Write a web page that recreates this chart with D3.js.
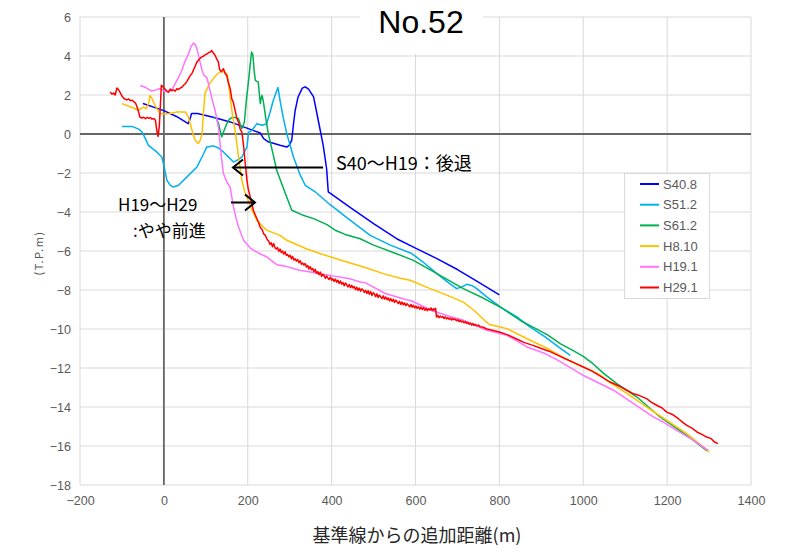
<!DOCTYPE html>
<html>
<head>
<meta charset="utf-8">
<script src="https://cdn.jsdelivr.net/npm/d3@7"></script>
<style>
  body { margin: 0; background: #fff; }
  svg { display: block; }
</style>
</head>
<body>
<svg id="chart" width="795" height="552"></svg>
<script>
// ---- data (distance from baseline [m], elevation T.P. [m]) ----
const seriesNames = ["S40.8", "S51.2", "S61.2", "H8.10", "H19.1", "H29.1"];
const seriesColors = ["#0000ff", "#00b0f0", "#00b050", "#ffc000", "#ff73ff", "#ff0000"];

const s40_8 = [[-50,1.56],[0,1.2],[30,0.9],[58,0.53],[62,0.75],[66,1.05],[80,1.05],[120,0.85],[158,0.62],[198,0.3],[230,0.05],[238,-0.24],[249,-0.4],[277,-0.58],[293,-0.67],[300,-0.55],[305,-0.3],[309,0.5],[313,1.2],[320,1.9],[330,2.35],[337,2.42],[345,2.3],[357,1.9],[370,0.5],[380,-0.6],[388,-1.77],[392,-2.97],[450,-3.85],[500,-4.6],[555,-5.37],[600,-5.85],[651,-6.39],[700,-6.95],[750,-7.6],[800,-8.25]];

const s51_2 = [[-100,0.39],[-76,0.39],[-60,0.25],[-52,0.1],[-45,-0.2],[-37,-0.58],[-17,-0.92],[-5,-1.18],[0,-1.6],[7,-2.37],[15,-2.62],[23,-2.72],[35,-2.63],[55,-2.2],[79,-1.69],[95,-1.0],[102,-0.67],[118,-0.61],[130,-0.72],[142,-0.92],[155,-1.2],[166,-1.44],[178,-1.3],[186,-1.18],[198,-0.67],[202,0.1],[210,0.19],[222,0.53],[234,0.45],[245,0.53],[253,1.1],[261,1.73],[272,2.38],[277,1.73],[285,0.8],[293,0.02],[309,-1.18],[325,-2.1],[337,-2.63],[360,-2.95],[395,-3.6],[440,-4.35],[492,-5.2],[540,-5.7],[591,-6.13],[620,-6.6],[651,-7.16],[680,-7.65],[698,-7.93],[710,-7.85],[722,-7.71],[735,-7.78],[746,-7.93],[770,-8.35],[802,-8.87],[842,-9.38],[870,-9.85],[909,-10.4],[940,-10.9],[969,-11.35]];

const s61_2 = [[118,0.84],[125,0.8],[130,0.55],[134,0.2],[138,-0.15],[143,0.15],[150,0.53],[156,0.75],[162,0.84],[170,0.85],[178,0.79],[182,0.5],[186,0.28],[192,0.6],[197,1.8],[202,2.75],[206,3.6],[209,4.2],[212,4.1],[215,3.3],[218,2.75],[222,2.7],[225,2.67],[228,2.0],[230,1.56],[232,1.85],[234,1.98],[236,1.8],[238,1.56],[243,0.8],[249,0.02],[259,-0.9],[269,-1.86],[287,-2.9],[305,-3.91],[330,-4.15],[357,-4.34],[389,-4.65],[410,-4.95],[432,-5.15],[468,-5.37],[500,-5.7],[550,-6.1],[595,-6.48],[651,-7.16],[714,-7.93],[760,-8.4],[802,-8.87],[849,-9.55],[880,-9.9],[915,-10.3],[945,-10.75],[975,-11.1],[1000,-11.4],[1023,-11.78],[1050,-12.3],[1080,-12.8],[1128,-13.49],[1183,-14.51],[1223,-15.1],[1262,-15.7],[1295,-16.25]];

const h8_10 = [[-100,1.56],[-80,1.4],[-60,1.22],[-55,1.3],[-49,1.38],[-42,1.3],[-36,1.6],[-33,1.98],[-28,1.8],[-21,1.47],[-14,1.2],[-9,1.05],[0,1.02],[15,1.05],[31,1.13],[51,1.13],[58,0.9],[67,0.19],[74,-0.3],[82,-0.49],[87,-0.3],[91,0.02],[94,1.0],[98,2.07],[108,2.55],[118,2.84],[126,3.05],[134,3.18],[143,3.2],[150,3.1],[154,2.7],[158,1.9],[164,0.9],[170,0.19],[178,-1.18],[186,-2.37],[192,-2.9],[198,-3.23],[210,-3.91],[222,-4.43],[237,-4.77],[246,-4.94],[277,-5.2],[293,-5.45],[341,-5.9],[372,-6.13],[419,-6.45],[436,-6.56],[480,-6.85],[523,-7.16],[564,-7.4],[587,-7.5],[635,-7.93],[685,-8.35],[714,-8.62],[740,-9.05],[762,-9.5],[776,-9.77],[800,-9.88],[818,-9.98],[866,-10.5],[915,-11.0],[957,-11.52],[1000,-11.95],[1036,-12.3],[1056,-12.63],[1104,-13.3],[1151,-14.0],[1199,-14.68],[1247,-15.36],[1300,-16.3]];

const h19_1 = [[-56,2.49],[-45,2.4],[-29,2.2],[-20,2.25],[-9,2.33],[0,2.2],[11,2.15],[20,2.3],[27,2.58],[35,2.9],[43,3.27],[50,3.7],[59,4.12],[65,4.5],[71,4.67],[74,4.6],[79,4.38],[85,3.8],[91,3.27],[96,3.0],[102,2.92],[106,2.6],[110,2.24],[116,1.7],[122,1.22],[130,0.36],[134,-0.49],[138,-1.35],[142,-2.03],[150,-2.45],[158,-2.72],[166,-3.74],[172,-4.3],[178,-4.77],[190,-5.45],[206,-5.85],[225,-6.1],[246,-6.31],[269,-6.7],[293,-6.8],[323,-6.99],[357,-7.1],[396,-7.25],[443,-7.42],[470,-7.6],[480,-7.62],[492,-7.76],[528,-8.18],[576,-8.49],[590,-8.55],[637,-9.04],[680,-9.35],[714,-9.55],[770,-10.07],[818,-10.32],[866,-10.92],[909,-11.26],[939,-11.6],[999,-12.37],[1024,-12.63],[1072,-13.14],[1120,-13.83],[1167,-14.51],[1191,-14.77],[1223,-15.2],[1262,-15.7],[1298,-16.22]];

const h29_1 = [[-128,2.15],[-124,2.05],[-120,2.1],[-116,2.0],[-112,2.36],[-109,2.3],[-104,2.12],[-100,1.95],[-96,1.84],[-92,1.78],[-88,1.75],[-84,1.8],[-80,1.7],[-76,1.74],[-72,1.66],[-68,1.6],[-64,1.4],[-60,1.1],[-57,0.86],[-52,0.82],[-48,0.86],[-44,0.78],[-40,0.85],[-36,0.8],[-32,0.84],[-28,0.76],[-24,0.8],[-20,0.7],[-17,0.2],[-14,-0.12],[-11,0.36],[-8,1.6],[-6,2.5],[-3,2.45],[0,2.35],[3,2.3],[7,2.2],[11,2.15],[15,2.3],[19,2.22],[23,2.26],[27,2.2],[31,2.32],[35,2.28],[39,2.36],[43,2.4],[47,2.5],[51,2.58],[55,2.7],[59,2.85],[63,3.0],[67,3.1],[71,3.3],[75,3.5],[79,3.7],[83,3.8],[87,3.9],[91,3.95],[95,4.0],[99,4.08],[103,4.1],[107,4.18],[111,4.2],[114,4.28],[118,4.15],[122,4.04],[126,3.85],[130,3.69],[133,3.3],[137,3.2],[142,3.35],[146,3.1],[150,3.0],[154,2.6],[158,2.35],[162,1.8],[166,1.6],[170,1.2],[174,0.8],[178,0.6],[182,0.25],[186,0.1],[190,-0.6],[194,-1.5],[198,-2.35],[201,-2.8],[204,-3.06],[208,-3.45],[211,-3.7],[214,-3.95],[218,-4.15],[222,-4.35],[226,-4.55],[230,-4.8],[234,-4.9],[238,-5.12],[242,-5.2],[246,-5.4],
[250,-5.5],[253,-5.66],[256,-5.58],[259,-5.78],[262,-5.62],[265,-5.84],[268,-5.9],[271,-5.82],[274,-6.02],[277,-5.9],[280,-6.08],[283,-6.0],[286,-6.16],[289,-6.04],[292,-6.22],[295,-6.18],[298,-6.3],[301,-6.22],[304,-6.4],[307,-6.28],[310,-6.46],[313,-6.4],[316,-6.52],[319,-6.44],[322,-6.6],[325,-6.5],[328,-6.68],[331,-6.62],[334,-6.72],[337,-6.64],[340,-6.82],[343,-6.74],[346,-6.92],[349,-6.8],[352,-6.96],[355,-6.9],[358,-7.06],[361,-6.94],[364,-7.14],[367,-7.06],[370,-7.22],[373,-7.08],[376,-7.3],[379,-7.2],[382,-7.26],[385,-7.4],[388,-7.28],[391,-7.38],[394,-7.46],[397,-7.34],[400,-7.5],[403,-7.42],[406,-7.56],[409,-7.44],[412,-7.6],[415,-7.5],[418,-7.66],[421,-7.54],[424,-7.7],[427,-7.62],[430,-7.78],[433,-7.64],[436,-7.74],[439,-7.84],[442,-7.72],[445,-7.88],[448,-7.76],[451,-7.9],[454,-7.82],[457,-7.98],[460,-7.86],[463,-8.02],[466,-7.9],[469,-8.06],[472,-7.94],[475,-8.0],[478,-8.12],[481,-8.02],[484,-8.18],[487,-8.04],[490,-8.22],[493,-8.08],[496,-8.28],[499,-8.14],[502,-8.2],[505,-8.34],[508,-8.2],[511,-8.38],[514,-8.26],[517,-8.36],[520,-8.44],[523,-8.3],[526,-8.46],[529,-8.36],[532,-8.5],[535,-8.4],[538,-8.56],[541,-8.44],[544,-8.58],[547,-8.48],[550,-8.64],[553,-8.52],[556,-8.6],[559,-8.7],[562,-8.58],[565,-8.74],[568,-8.62],[571,-8.76],[574,-8.66],[577,-8.8],[580,-8.7],[583,-8.78],[586,-8.86],[589,-8.74],[592,-8.88],[595,-8.78],[598,-8.92],[601,-8.82],[604,-8.94],[607,-8.86],[610,-8.98],[613,-8.88],[616,-9.0],[619,-8.9],[622,-9.04],[625,-8.94],[628,-9.06],[631,-8.96],[634,-9.02],[637,-8.92],[640,-9.06],[643,-8.96],[646,-9.02],[648,-8.94],[650,-9.38],[653,-9.3],[656,-9.42],[659,-9.34],[662,-9.4],[665,-9.36],[668,-9.46],[671,-9.38],[674,-9.48],[677,-9.42],[680,-9.5],[683,-9.44],[686,-9.54],[689,-9.46],[692,-9.52],[695,-9.5],[698,-9.58],[701,-9.52],[704,-9.62],[707,-9.56],[710,-9.64],[713,-9.6],[716,-9.68],[719,-9.62],[722,-9.72],[725,-9.66],[728,-9.76],[731,-9.7],[734,-9.8],[737,-9.72],[740,-9.82],[743,-9.76],[746,-9.84],[750,-9.8],[754,-9.88],
[760,-9.9],[770,-10.0],[780,-10.05],[790,-10.1],[800,-10.15],[820,-10.3],[840,-10.5],[860,-10.7],[880,-10.84],[900,-11.0],[920,-11.15],[940,-11.35],[960,-11.55],[980,-11.75],[1000,-11.95],[1020,-12.15],[1040,-12.4],[1064,-12.72],[1085,-12.92],[1104,-13.14],[1118,-13.3],[1130,-13.38],[1151,-13.57],[1162,-13.75],[1175,-13.91],[1188,-14.05],[1199,-14.26],[1214,-14.4],[1227,-14.6],[1238,-14.8],[1247,-14.94],[1260,-15.1],[1271,-15.28],[1284,-15.42],[1294,-15.54],[1305,-15.62],[1312,-15.78],[1321,-15.88]];

const allSeries = [s40_8, s51_2, s61_2, h8_10, h19_1, h29_1];

const xTicks = [-200, 0, 200, 400, 600, 800, 1000, 1200, 1400];
const yTicks = [-18, -16, -14, -12, -10, -8, -6, -4, -2, 0, 2, 4, 6];

// ---- chart ----
const svg = d3.select("#chart");
const margin = { top: 17, right: 44, bottom: 67, left: 80 };
const width = 795, height = 552;

const x = d3.scaleLinear().domain([-200, 1400]).range([margin.left, width - margin.right]);
const y = d3.scaleLinear().domain([-18, 6]).range([height - margin.bottom, margin.top]);

svg.append("rect").attr("width", width).attr("height", height).attr("fill", "#fff");

// gridlines
svg.append("g")
  .selectAll("line")
  .data(xTicks)
  .join("line")
  .attr("x1", d => x(d)).attr("x2", d => x(d))
  .attr("y1", y(6)).attr("y2", y(-18))
  .attr("stroke", "#d9d9d9").attr("stroke-width", 1);

svg.append("g")
  .selectAll("line")
  .data(yTicks)
  .join("line")
  .attr("x1", x(-200)).attr("x2", x(1400))
  .attr("y1", d => y(d)).attr("y2", d => y(d))
  .attr("stroke", "#d9d9d9").attr("stroke-width", 1);

// zero axes
svg.append("line")
  .attr("x1", x(0)).attr("x2", x(0)).attr("y1", y(6)).attr("y2", y(-18))
  .attr("stroke", "#666").attr("stroke-width", 1.8);
svg.append("line")
  .attr("x1", x(-200)).attr("x2", x(1400)).attr("y1", y(0)).attr("y2", y(0))
  .attr("stroke", "#666").attr("stroke-width", 1.8);

// tick labels
const fmt = d3.format("d");
const xAxis = g => g
  .attr("transform", `translate(0,${y(-18)})`)
  .call(d3.axisBottom(x).tickValues(xTicks).tickFormat(fmt).tickSize(0).tickPadding(11))
  .call(g => g.select(".domain").remove());
const yAxis = g => g
  .attr("transform", `translate(${x(-200)},0)`)
  .call(d3.axisLeft(y).tickValues(yTicks).tickFormat(fmt).tickSize(0).tickPadding(9))
  .call(g => g.select(".domain").remove());

svg.append("g").call(xAxis);
svg.append("g").call(yAxis);
svg.selectAll(".tick text")
  .attr("fill", "#595959")
  .style("font-family", "'Liberation Sans', Arial, sans-serif")
  .style("font-size", "12.5px");

// series
const line = d3.line().x(d => x(d[0])).y(d => y(d[1]));
svg.append("g")
  .selectAll("path")
  .data(allSeries)
  .join("path")
  .attr("d", line)
  .attr("fill", "none")
  .attr("stroke", (d, i) => seriesColors[i])
  .attr("stroke-width", 1.5)
  .attr("stroke-linejoin", "round");

// title box
svg.append("rect").attr("x", 360).attr("y", 0).attr("width", 123).attr("height", 54).attr("fill", "#fff");
svg.append("text")
  .attr("x", 421).attr("y", 33)
  .attr("text-anchor", "middle")
  .style("font-family", "'Liberation Sans', Arial, sans-serif")
  .style("font-size", "32px")
  .attr("fill", "#000")
  .text("No.52");

// axis titles
svg.append("text")
  .attr("x", 417).attr("y", 542)
  .attr("text-anchor", "middle")
  .style("font-family", "'Noto Sans CJK JP', sans-serif")
  .style("font-size", "18px")
  .attr("fill", "#262626")
  .text("基準線からの追加距離(m)");

svg.append("text")
  .attr("transform", "translate(43,253) rotate(-90)")
  .attr("text-anchor", "middle")
  .style("font-family", "'Noto Sans CJK JP', sans-serif")
  .style("font-size", "11px")
  .style("letter-spacing", "1.5px")
  .attr("fill", "#595959")
  .text("(T.P.m)");

// legend
const legend = svg.append("g");
legend.append("rect")
  .attr("x", 624.5).attr("y", 173.5).attr("width", 85).attr("height", 125)
  .attr("fill", "#fff").attr("stroke", "#d9d9d9");
const items = legend.selectAll("g")
  .data(seriesNames)
  .join("g")
  .attr("transform", (d, i) => `translate(0,${184 + i * 20.7})`);
items.append("line")
  .attr("x1", 640).attr("x2", 659)
  .attr("stroke", (d, i) => seriesColors[i]).attr("stroke-width", 2);
items.append("text")
  .attr("x", 663).attr("y", 0).attr("dy", "0.36em")
  .style("font-family", "'Liberation Sans', Arial, sans-serif")
  .style("font-size", "13px")
  .attr("fill", "#595959")
  .text(d => d);

// annotations
const arrow = (x1, x2, yv, dir) => {
  svg.append("line").attr("x1", x1).attr("x2", x2).attr("y1", yv).attr("y2", yv)
    .attr("stroke", "#000").attr("stroke-width", 2);
  const hx = x2 - dir * 10;
  svg.append("path")
    .attr("d", `M${hx},${yv - 8}L${x2},${yv}L${hx},${yv + 8}`)
    .attr("fill", "none").attr("stroke", "#000").attr("stroke-width", 2);
};
arrow(323, 233, 167.5, -1);
arrow(231, 255, 202.5, 1);

const noteFont = "'Noto Sans CJK JP', sans-serif";
svg.append("text")
  .attr("x", 336).attr("y", 170)
  .style("font-family", noteFont)
  .style("font-size", "18px")
  .attr("fill", "#000")
  .text("S40～H19：後退");
svg.append("text")
  .attr("x", 118).attr("y", 211)
  .style("font-family", noteFont)
  .style("font-size", "17px")
  .attr("fill", "#000")
  .text("H19～H29");
svg.append("text")
  .attr("x", 133).attr("y", 237)
  .style("font-family", noteFont)
  .style("font-size", "17px")
  .attr("fill", "#000")
  .text(":やや前進");
</script>
</body>
</html>
